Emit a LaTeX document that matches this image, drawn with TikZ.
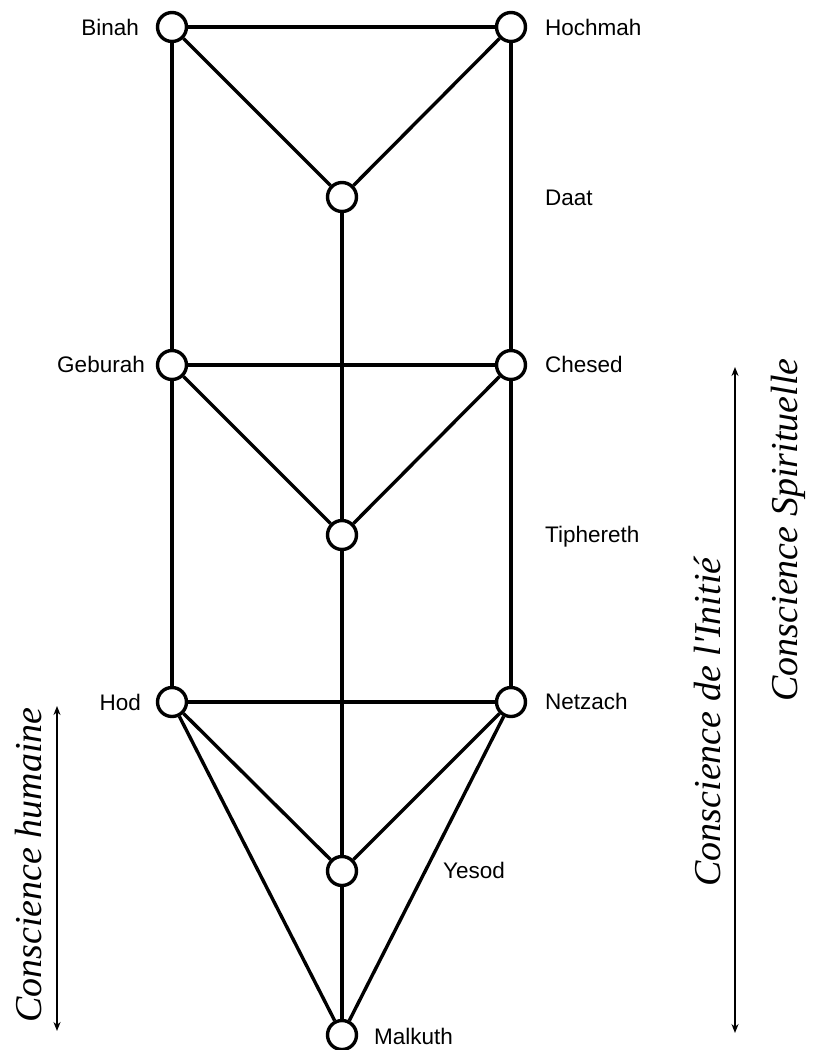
\documentclass[tikz,border=0pt]{standalone}
\usepackage{fontspec}
\setmainfont{Liberation Sans}
\newfontfamily\annfont{Liberation Serif}
\usetikzlibrary{arrows.meta}
\begin{document}
\begin{tikzpicture}[x=1pt,y=-1pt,
  sefira/.style={circle,draw,line width=3.4pt,fill=white,minimum size=29pt,inner sep=0pt},
  path/.style={line width=3.4pt},
  lbl/.style={inner sep=0pt,font=\fontsize{22.5}{26}\selectfont},
  ann/.style={rotate=90,inner sep=0pt,font=\annfont\itshape\fontsize{38}{44}\selectfont},
  dbl/.style={line width=2.4pt,{Stealth[length=9pt,width=7pt]}-{Stealth[length=9pt,width=7pt]}}]
\useasboundingbox (0,0) rectangle (812,1050);
% sephiroth
\node[sefira] (binah) at (172,27) {};
\node[sefira] (hochmah) at (511,27) {};
\node[sefira] (daat) at (342,197) {};
\node[sefira] (geburah) at (172,365) {};
\node[sefira] (chesed) at (511,365) {};
\node[sefira] (tiphereth) at (342,535) {};
\node[sefira] (hod) at (172,702) {};
\node[sefira] (netzach) at (511,702) {};
\node[sefira] (yesod) at (342,871) {};
\node[sefira] (malkuth) at (342,1035) {};
% paths
\draw[path] (binah) -- (hochmah);
\draw[path] (binah) -- (daat);
\draw[path] (hochmah) -- (daat);
\draw[path] (binah) -- (geburah);
\draw[path] (hochmah) -- (chesed);
\draw[path] (daat) -- (tiphereth);
\draw[path] (geburah) -- (chesed);
\draw[path] (geburah) -- (tiphereth);
\draw[path] (chesed) -- (tiphereth);
\draw[path] (geburah) -- (hod);
\draw[path] (chesed) -- (netzach);
\draw[path] (tiphereth) -- (yesod);
\draw[path] (hod) -- (netzach);
\draw[path] (hod) -- (yesod);
\draw[path] (netzach) -- (yesod);
\draw[path] (hod) -- (malkuth);
\draw[path] (netzach) -- (malkuth);
\draw[path] (yesod) -- (malkuth);
% labels
\node[lbl,anchor=base east] (lbinah) at (139,35) {Binah};
\node[lbl,anchor=base west] (lhochmah) at (545,35) {Hochmah};
\node[lbl,anchor=base west] (ldaat) at (545,205) {Daat};
\node[lbl,anchor=base east] (lgeburah) at (145,372) {Geburah};
\node[lbl,anchor=base west] (lchesed) at (545,372) {Chesed};
\node[lbl,anchor=base west] (ltiphereth) at (545,542) {Tiphereth};
\node[lbl,anchor=base east] (lhod) at (141,710) {Hod};
\node[lbl,anchor=base west] (lnetzach) at (545,709) {Netzach};
\node[lbl,anchor=base west] (lyesod) at (443,878) {Yesod};
\node[lbl,anchor=base west] (lmalkuth) at (374,1044) {Malkuth};
% annotations
\coordinate (h1) at (57,706);
\coordinate (h2) at (57,1031);
\draw[dbl] (h1) -- (h2);
\node[ann] (thum) at (29,865) {Conscience humaine};
\coordinate (i1) at (735,367);
\coordinate (i2) at (735,1033);
\draw[dbl] (i1) -- (i2);
\node[ann] (tini) at (707,722) {Conscience de l'Initié};
\node[ann] (tspi) at (788,530) {Conscience Spirituelle};
\end{tikzpicture}
\end{document}
